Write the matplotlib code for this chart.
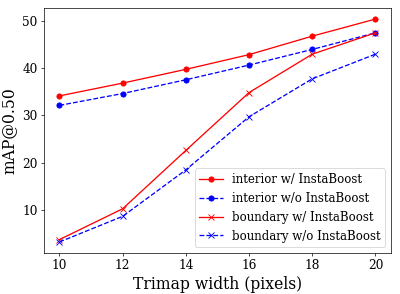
import matplotlib
matplotlib.use("Agg")
import matplotlib.pyplot as plt

widths = [10, 12, 14, 16, 18, 20]
interior_w = [34.1, 36.8, 39.7, 42.8, 46.7, 50.3]
interior_wo = [32.1, 34.6, 37.5, 40.6, 43.9, 47.4]
boundary_w = [3.8, 10.3, 22.6, 34.8, 42.9, 47.4]
boundary_wo = [3.3, 8.7, 18.5, 29.7, 37.7, 42.9]

plt.rcParams["font.family"] = "DejaVu Serif"

# drawn at a larger size, saved at low dpi to land on 400x294
fig = plt.figure(figsize=(6.4, 4.704), dpi=62.5)
ax = fig.add_axes([0.109, 0.139, 0.869, 0.834])

ax.plot(widths, interior_w, "r-", marker="o", label="interior w/ InstaBoost")
ax.plot(widths, interior_wo, "b--", marker="o", label="interior w/o InstaBoost")
ax.plot(widths, boundary_w, "r-", marker="x", label="boundary w/ InstaBoost")
ax.plot(widths, boundary_wo, "b--", marker="x", label="boundary w/o InstaBoost")

ax.set_xticks(widths)
ax.tick_params(labelsize=14)
ax.set_xlabel("Trimap width (pixels)", fontsize=18)
ax.set_ylabel("mAP@0.50", fontsize=18, labelpad=5)
ax.legend(loc="lower right", fontsize=13.5)

fig.savefig("out.png", dpi=62.5)
